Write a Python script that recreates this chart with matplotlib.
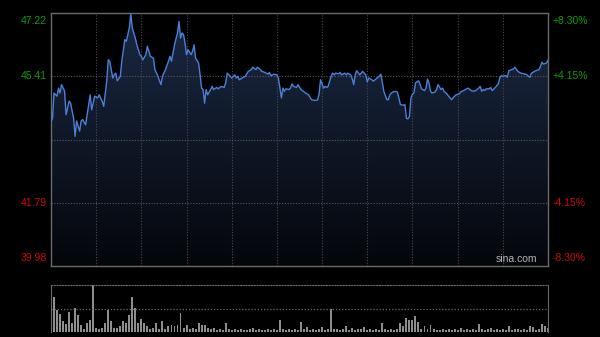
import numpy as np
import matplotlib
matplotlib.use('Agg')
import matplotlib.pyplot as plt
from matplotlib.colors import LinearSegmentedColormap

plt.rcParams['font.family'] = ['Liberation Sans', 'DejaVu Sans']

# minute index (0..330) and price
minutes = [0, 1, 2, 4, 5, 6, 7, 9, 10, 12, 13, 15, 16, 17, 19, 20, 21, 23, 25, 26,
           27, 29, 31, 32, 34, 35, 37, 38, 39, 41, 42, 43, 44, 46, 47, 49, 50, 52, 53, 54,
           56, 57, 59, 60, 61, 63, 64, 66, 68, 69, 71, 73, 74, 76, 78, 79, 80, 82, 84, 85,
           86, 87, 88, 89, 90, 91, 93, 94, 95, 96, 98, 99, 100, 101, 102, 103, 104, 106, 107, 108,
           110, 111, 113, 115, 116, 117, 119, 120, 122, 123, 124, 125, 127, 129, 131, 133, 134, 136, 137, 139,
           140, 142, 144, 145, 146, 148, 150, 151, 152, 153, 154, 155, 156, 158, 159, 160, 161, 163, 164, 166,
           167, 169, 171, 172, 173, 175, 177, 178, 179, 181, 182, 183, 184, 186, 187, 188, 189, 191, 192, 193,
           195, 196, 197, 199, 200, 201, 202, 203, 205, 206, 207, 209, 210, 211, 213, 214, 216, 218, 219, 220,
           221, 223, 224, 225, 226, 228, 230, 231, 232, 234, 235, 236, 237, 238, 239, 240, 241, 242, 244, 245,
           246, 248, 249, 250, 251, 252, 253, 255, 256, 257, 259, 260, 261, 263, 264, 265, 266, 268, 269, 271,
           272, 274, 276, 277, 279, 280, 282, 284, 285, 286, 287, 288, 289, 291, 292, 293, 295, 296, 297, 298,
           299, 300, 302, 303, 304, 306, 307, 308, 310, 311, 312, 314, 315, 316, 318, 319, 320, 321, 322, 324,
           325, 326, 327, 329, 330]
prices = [44.12, 44.21, 44.93, 44.84, 45.07, 44.93, 45.17, 44.99, 44.31, 44.70, 44.64, 44.21, 43.69, 44.13, 43.84, 44.13, 44.17, 44.02, 44.60, 44.88,
          44.45, 44.84, 44.79, 44.88, 44.69, 44.55, 45.27, 45.88, 45.84, 45.36, 45.45, 45.50, 45.28, 45.41, 45.84, 46.46, 46.41, 46.79, 47.20, 46.79,
          46.50, 46.31, 46.03, 45.98, 45.88, 46.03, 46.27, 45.98, 45.93, 45.60, 45.41, 45.17, 45.41, 45.60, 45.84, 45.98, 45.84, 46.31, 46.65, 46.98,
          46.50, 46.65, 46.60, 46.36, 46.03, 46.17, 46.03, 46.12, 46.31, 45.93, 45.79, 45.45, 45.07, 45.03, 44.64, 45.03, 44.88, 45.03, 45.12, 45.03,
          45.09, 45.05, 45.12, 45.09, 45.22, 45.50, 45.41, 45.36, 45.45, 45.36, 45.41, 45.31, 45.36, 45.41, 45.55, 45.60, 45.67, 45.60, 45.67, 45.60,
          45.55, 45.52, 45.47, 45.52, 45.43, 45.47, 45.45, 45.36, 45.07, 44.79, 45.07, 44.98, 45.05, 45.03, 45.07, 45.19, 45.12, 45.09, 45.17, 45.03,
          45.00, 44.93, 44.88, 44.81, 44.74, 44.72, 44.73, 44.90, 45.31, 45.07, 45.12, 45.09, 45.12, 45.41, 45.50, 45.45, 45.50, 45.48, 45.52, 45.45,
          45.50, 45.45, 45.50, 45.45, 45.34, 45.17, 45.45, 45.57, 45.45, 45.50, 45.55, 45.45, 45.25, 45.36, 45.31, 45.27, 45.34, 45.41, 45.47, 45.22,
          44.98, 44.74, 44.74, 44.88, 44.93, 44.98, 44.96, 44.79, 44.60, 44.58, 44.60, 44.21, 44.19, 44.26, 44.79, 44.90, 44.93, 45.22, 45.28, 45.19,
          45.05, 45.00, 45.07, 45.33, 45.22, 44.98, 44.93, 44.96, 45.03, 45.17, 45.03, 45.07, 44.98, 44.90, 44.84, 44.79, 44.74, 44.84, 44.88, 44.90,
          44.96, 45.00, 45.05, 45.07, 45.00, 44.98, 45.00, 45.07, 45.12, 44.98, 45.03, 45.00, 45.05, 45.05, 45.09, 45.00, 45.09, 45.14, 45.19, 45.36,
          45.43, 45.41, 45.43, 45.38, 45.57, 45.60, 45.62, 45.67, 45.55, 45.52, 45.50, 45.48, 45.47, 45.45, 45.38, 45.50, 45.52, 45.55, 45.57, 45.60,
          45.69, 45.81, 45.76, 45.79, 45.87]

# volume, one bar every 2 minutes (relative units)
volume = [19, 35, 22, 18, 11, 8, 20, 9, 24, 17, 7, 3, 9, 12, 47, 4, 3, 4, 9, 22,
          11, 4, 4, 6, 11, 9, 17, 35, 24, 9, 13, 9, 6, 3, 4, 9, 3, 11, 3, 6,
          7, 6, 7, 19, 4, 7, 3, 4, 3, 9, 7, 7, 4, 3, 4, 2, 3, 2, 9, 3,
          2, 3, 2, 3, 2, 2, 3, 4, 2, 3, 2, 2, 3, 2, 3, 2, 12, 3, 2, 3,
          2, 3, 2, 10, 3, 5, 2, 3, 2, 3, 5, 2, 3, 23, 3, 3, 2, 3, 6, 2,
          4, 2, 3, 3, 5, 2, 3, 2, 3, 2, 9, 3, 2, 3, 2, 3, 9, 6, 14, 12,
          12, 16, 10, 3, 6, 3, 7, 3, 2, 2, 3, 2, 3, 2, 3, 2, 4, 2, 3, 2,
          3, 2, 8, 3, 2, 3, 4, 2, 3, 2, 3, 2, 6, 2, 3, 3, 2, 3, 2, 6,
          5, 2, 3, 8, 6, 4]

prev_close = 43.60
price_ticks = [39.98, 41.79, 43.60, 45.41, 47.22]
left_labels = ['39.98', '41.79', '', '45.41', '47.22']
right_labels = ['-8.30%', '-4.15%', '', '+4.15%', '+8.30%']
label_colors = ['#cc0a0a', '#cc0a0a', '#888888', '#0a9e0a', '#0a9e0a']

fig = plt.figure(figsize=(6, 3.37), dpi=100, facecolor='black')
ax = fig.add_axes([0.085, 0.2107, 0.8283, 0.7507], facecolor='black')
axv = fig.add_axes([0.085, 0.0148, 0.8283, 0.1395], facecolor='black')

ymin, ymax = price_ticks[0], price_ticks[-1]
ax.set_xlim(0, 330)
ax.set_ylim(ymin, ymax)

# gradient fill under the price line
poly = ax.fill_between(minutes, prices, ymin, color='none', lw=0)
cmap = LinearSegmentedColormap.from_list('fill', ['#04060a', '#1b2944'])
grad = np.linspace(0, 1, 256).reshape(-1, 1)
img = ax.imshow(grad, extent=[0, 330, ymin, ymax], aspect='auto', cmap=cmap,
                origin='lower', zorder=1)
img.set_clip_path(poly.get_paths()[0], transform=ax.transData)

ax.plot(minutes, prices, color='#4a80d8', lw=1.0, zorder=3)

# grid
for t in range(30, 330, 30):
    ax.axvline(t, color='#4a4a4a', lw=0.8, ls=(0, (1, 1.5)), zorder=2)
for p in price_ticks[1:-1]:
    ax.axhline(p, color='#5a5a5a', lw=0.8, ls=(0, (1, 1.5)), zorder=2)

for s in ax.spines.values():
    s.set_color('#6a6a6a')
    s.set_linewidth(1)
ax.set_xticks([])
ax.set_yticks([])

# axis labels
tr = ax.get_yaxis_transform()
for p, ll, rl, c in zip(price_ticks, left_labels, right_labels, label_colors):
    if not ll:
        continue
    va, y = 'center', p
    if p == ymax:
        va, y = 'top', p - 0.08
    elif p == ymin:
        va, y = 'bottom', p + 0.08
    ax.text(-0.008, y, ll, transform=tr, ha='right', va=va, color=c, fontsize=7.5)
    ax.text(1.01, y, rl, transform=tr, ha='left', va=va, color=c, fontsize=7.5)

ax.text(0.978, 0.008, 'sina.com', transform=ax.transAxes, ha='right', va='bottom',
        color='#b4b4b4', fontsize=7.5, zorder=4)

# volume panel
vol_t = [2 * i for i in range(len(volume))]
axv.bar(vol_t, volume, width=1.3, color='#8e8e8e', lw=0)
axv.set_xlim(0, 330)
axv.set_ylim(0, 47)
axv.axhline(23.5, color='#6a6a6a', lw=0.9, ls=(0, (1, 1.5)))
axv.set_xticks([])
axv.set_yticks([])
axv.spines['top'].set_color('#6a6a6a')
axv.spines['top'].set_linestyle((0, (1, 1.5)))
axv.spines['left'].set_color('#6a6a6a')
axv.spines['right'].set_color('#6a6a6a')
axv.spines['bottom'].set_visible(False)

fig.savefig('out.png', dpi=100, facecolor='black')
